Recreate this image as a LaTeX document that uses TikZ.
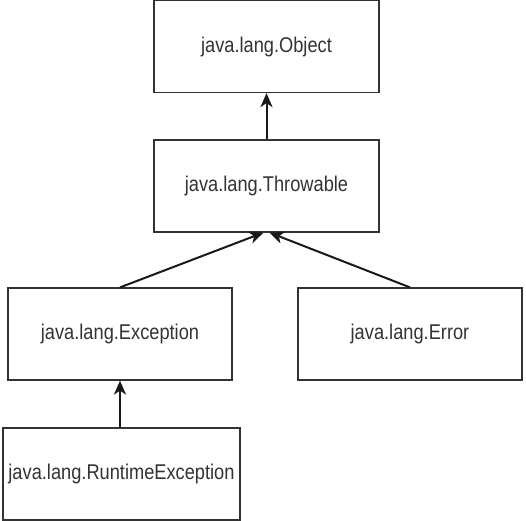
\documentclass[tikz,border=0pt]{standalone}
\usepackage{fontspec}
\setmainfont[FakeStretch=0.855]{Liberation Sans}
\usetikzlibrary{arrows.meta,calc}
\definecolor{ink}{HTML}{333333}
\begin{document}
\begin{tikzpicture}[x=0.75pt,y=-0.75pt,
  cls/.style={draw=ink,line width=0.9pt,fill=white,minimum height=69pt,inner sep=0pt,
    font=\fontsize{16}{19}\selectfont,text=ink},
  inh/.style={draw=black!90,line width=1.5pt,-{Stealth[length=10.5pt,width=9pt,inset=3pt]}}]
\useasboundingbox (0,0) rectangle (526,521);
\node[cls,minimum width=168.75pt] (obj) at (266.5,46.5) {java.lang.Object};
\node[cls,minimum width=168.75pt] (thr) at (266.5,186) {java.lang.Throwable};
\node[cls,minimum width=168pt] (exc) at (120,334) {java.lang.Exception};
\node[cls,minimum width=168pt] (err) at (410,334) {java.lang.Error};
\node[cls,minimum width=177.75pt] (rte) at (121.5,474) {java.lang.RuntimeException};
\draw[inh] (thr.north) -- (obj.south);
\draw[inh] (exc.north) -- ($(thr.south)+(-3,0)$);
\draw[inh] (err.north) -- ($(thr.south)+(3,0)$);
\draw[inh] (rte.north -| exc.north) -- (exc.south);
\end{tikzpicture}
\end{document}
